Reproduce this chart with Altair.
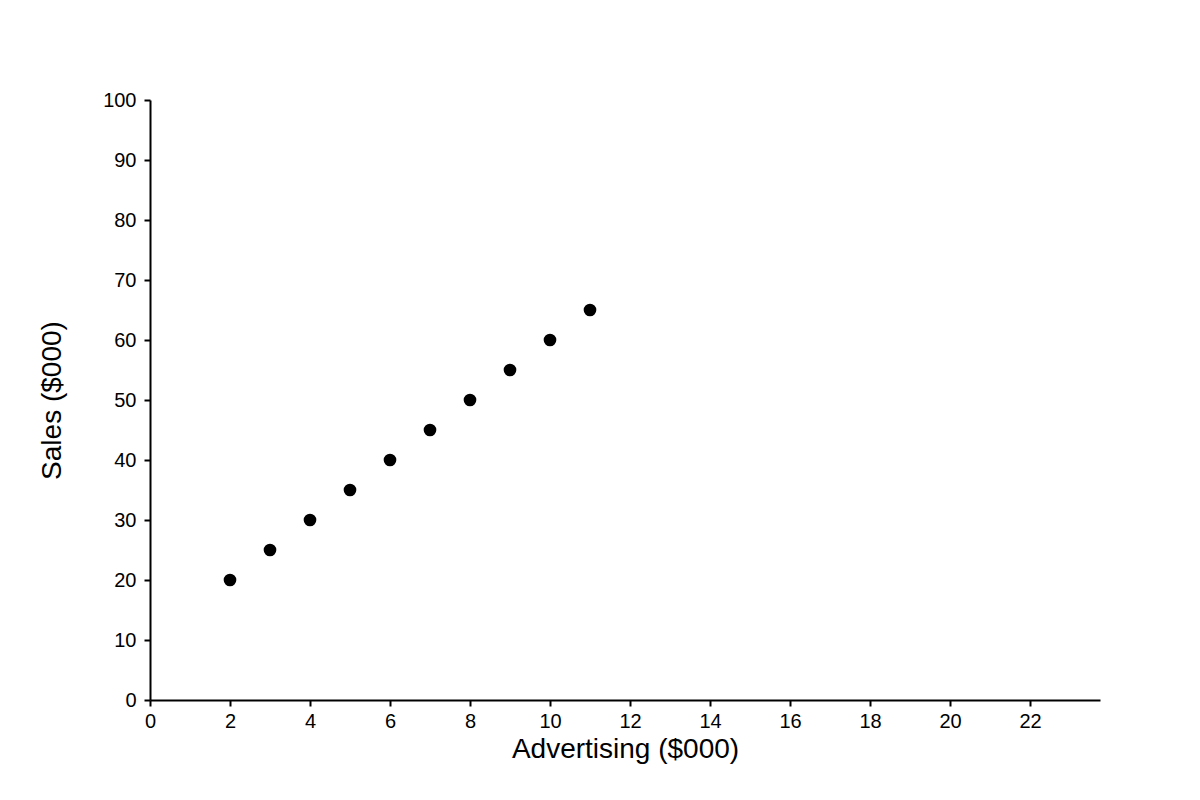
import altair as alt
import pandas as pd

advertising = [2, 3, 4, 5, 6, 7, 8, 9, 10, 11]
sales = [20, 25, 30, 35, 40, 45, 50, 55, 60, 65]

df = pd.DataFrame({"Advertising": advertising, "Sales": sales})

FONT = "Liberation Sans"

chart = alt.Chart(df).mark_circle(color="black", opacity=1, size=160).encode(
    x=alt.X("Advertising:Q",
            scale=alt.Scale(domain=[0, 23.75], nice=False, zero=True),
            axis=alt.Axis(title="Advertising ($000)", values=list(range(0, 23, 2)),
                          grid=False, domainColor="black", domainWidth=2,
                          tickColor="black", tickWidth=2, tickSize=6,
                          labelFont=FONT, labelFontSize=20, labelColor="black",
                          labelFlush=False,
                          labelPadding=5, titleFont=FONT, titleFontSize=28,
                          titleFontWeight="normal", titleColor="black", titlePadding=4)),
    y=alt.Y("Sales:Q",
            scale=alt.Scale(domain=[0, 100], nice=False),
            axis=alt.Axis(title="Sales ($000)", values=list(range(0, 101, 10)),
                          grid=False, domainColor="black", domainWidth=2,
                          tickColor="black", tickWidth=2, tickSize=6,
                          labelFont=FONT, labelFontSize=20, labelColor="black",
                          labelFlush=False,
                          labelPadding=8, titleFont=FONT, titleFontSize=28,
                          titleFontWeight="normal", titleColor="black", titlePadding=36)),
).properties(
    width=950, height=600,
    autosize=alt.AutoSizeParams(type="none"),
    padding={"left": 142, "top": 92, "right": 50, "bottom": 92},
).configure_view(stroke=None)

chart.save("out.html", embed_options={"renderer": "svg", "actions": False})
